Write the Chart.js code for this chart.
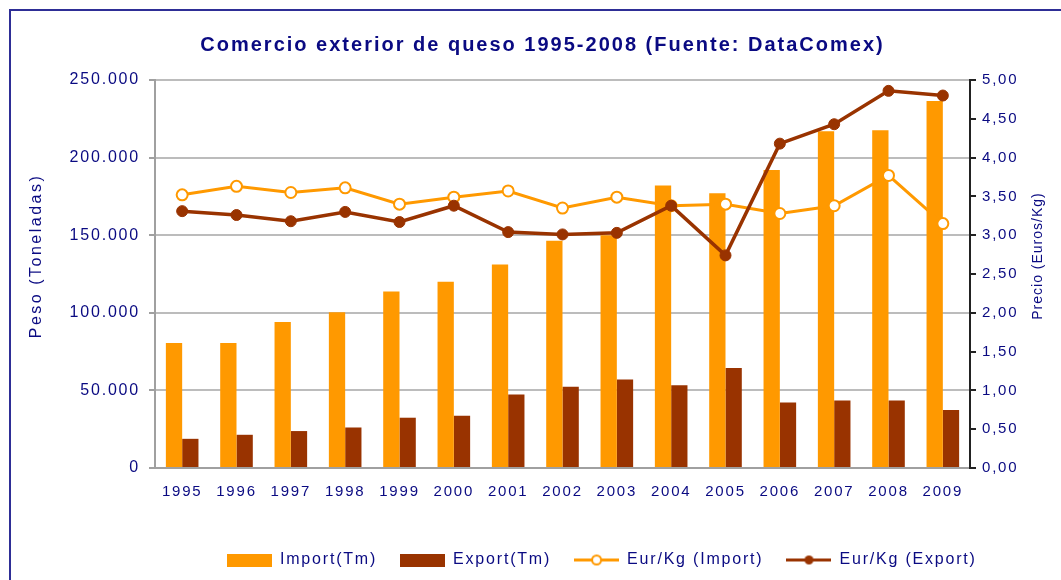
<!DOCTYPE html>
<html><head><meta charset="utf-8">
<script src="https://cdn.jsdelivr.net/npm/chart.js@4.4.1/dist/chart.umd.min.js"></script>
<style>
html,body{margin:0;padding:0;background:#fff;overflow:hidden;}
#wrap{position:relative;width:1061px;height:580px;}
#frame{position:absolute;left:9px;top:9px;width:1100px;height:600px;border-top:2px solid #2e2e96;border-left:2px solid #2e2e96;pointer-events:none;}
canvas{position:absolute;left:0;top:0;}
</style></head><body>
<div id="wrap"><canvas id="c" width="1061" height="580"></canvas><div id="frame"></div></div>
<script>
// ---- data ----
const years = ['1995','1996','1997','1998','1999','2000','2001','2002','2003','2004','2005','2006','2007','2008','2009'];
const importTm = [80500, 80500, 94000, 100300, 113800, 120000, 131200, 146500, 150000, 182000, 177000, 192000, 217000, 217600, 236500];
const exportTm = [18800, 21400, 23800, 26100, 32400, 33600, 47300, 52300, 57000, 53300, 64500, 42200, 43500, 43500, 37300];
const eurImport = [3.52, 3.63, 3.55, 3.61, 3.40, 3.49, 3.57, 3.35, 3.49, 3.38, 3.40, 3.28, 3.38, 3.77, 3.15];
const eurExport = [3.31, 3.26, 3.18, 3.30, 3.17, 3.38, 3.04, 3.01, 3.03, 3.38, 2.74, 4.18, 4.43, 4.86, 4.80];
const leftTickLabels = ['0','50.000','100.000','150.000','200.000','250.000'];
const rightTickLabels = ['0,00','0,50','1,00','1,50','2,00','2,50','3,00','3,50','4,00','4,50','5,00'];
const seriesNames = ['Import(Tm)','Export(Tm)','Eur/Kg (Import)','Eur/Kg (Export)'];
const chartTitle = 'Comercio exterior de queso 1995-2008 (Fuente: DataComex)';
const leftAxisTitle = 'Peso (Toneladas)';
const rightAxisTitle = 'Precio (Euros/Kg)';

// ---- styles ----
const NAVY = '#0a0a82';
const ORANGE = '#FF9900';
const BROWN = '#993300';
const FONT = "'Liberation Sans', Arial, sans-serif";

// wide letter spacing like the original rendering
(function(){
  const P = CanvasRenderingContext2D.prototype;
  const d = Object.getOwnPropertyDescriptor(P, 'font');
  Object.defineProperty(P, 'font', {
    configurable: true, enumerable: d.enumerable,
    get(){ return d.get.call(this); },
    set(v){ d.set.call(this, v); if ('letterSpacing' in this) { this.letterSpacing = /bold/.test(v) ? '2px' : '1.8px'; } }
  });
})();

function icon(kind, color){
  const c = document.createElement('canvas');
  c.width = 45; c.height = 13;
  const g = c.getContext('2d');
  if (kind === 'bar') {
    g.fillStyle = color; g.fillRect(0, 0, 45, 13);
  } else {
    g.strokeStyle = color; g.lineWidth = 3;
    g.beginPath(); g.moveTo(0, 6.5); g.lineTo(45, 6.5); g.stroke();
    g.beginPath(); g.arc(22.5, 6.5, 4.5, 0, Math.PI * 2);
    if (kind === 'open') { g.fillStyle = '#fff'; g.fill(); g.lineWidth = 2; g.stroke(); }
    else { g.fillStyle = color; g.fill(); }
  }
  return c;
}
const legendIcons = [icon('bar', ORANGE), icon('bar', BROWN), icon('open', ORANGE), icon('filled', BROWN)];

Chart.defaults.font.family = FONT;
Chart.defaults.font.size = 15;
Chart.defaults.color = NAVY;

const legendShift = {
  id: 'legendShift',
  afterLayout(chart){ const l = chart.legend; if (l) { l.left = 204; } }
};
const axisTitles = {
  id: 'axisTitles',
  afterDraw(chart){
    const c = chart.ctx;
    c.save();
    c.fillStyle = NAVY; c.textAlign = 'center'; c.textBaseline = 'middle';
    c.font = '16px ' + FONT; c.letterSpacing = '2.5px';
    c.translate(37, 256); c.rotate(-Math.PI / 2); c.fillText(leftAxisTitle, 0, 0);
    c.restore();
    c.save();
    c.fillStyle = NAVY; c.textAlign = 'center'; c.textBaseline = 'middle';
    c.font = '14px ' + FONT; c.letterSpacing = '1px';
    c.translate(1038, 256); c.rotate(-Math.PI / 2); c.fillText(rightAxisTitle, 0, 0);
    c.restore();
  }
};

new Chart(document.getElementById('c'), {
  type: 'bar',
  data: {
    labels: years,
    datasets: [
      { type: 'bar', label: seriesNames[0], data: importTm, backgroundColor: ORANGE, yAxisID: 'y', order: 3, barPercentage: 1, categoryPercentage: 0.6 },
      { type: 'bar', label: seriesNames[1], data: exportTm, backgroundColor: BROWN, yAxisID: 'y', order: 3, barPercentage: 1, categoryPercentage: 0.6 },
      { type: 'line', label: seriesNames[2], data: eurImport, borderColor: ORANGE, borderWidth: 3, tension: 0,
        pointRadius: 5.5, pointBackgroundColor: '#fff', pointBorderColor: ORANGE, pointBorderWidth: 2, yAxisID: 'y1', order: 2 },
      { type: 'line', label: seriesNames[3], data: eurExport, borderColor: BROWN, borderWidth: 3.5, tension: 0,
        pointRadius: 5.5, pointBackgroundColor: BROWN, pointBorderColor: BROWN, pointBorderWidth: 1, yAxisID: 'y1', order: 1 }
    ]
  },
  options: {
    responsive: false, animation: false, devicePixelRatio: 1,
    layout: { padding: { left: 24, right: 0, top: 24, bottom: 2 } },
    plugins: {
      title: { display: true, text: chartTitle, color: NAVY, font: { size: 20, weight: 'bold' }, padding: { top: 9, bottom: 23 } },
      legend: {
        position: 'bottom', align: 'start',
        labels: {
          padding: 23, boxWidth: 45, boxHeight: 13, usePointStyle: true, pointStyleWidth: 45,
          color: NAVY, font: { size: 16 },
          generateLabels(chart){
            return chart.data.datasets.map((ds, i) => ({
              text: ds.label, pointStyle: legendIcons[i], fillStyle: 'rgba(0,0,0,0)', strokeStyle: 'rgba(0,0,0,0)',
              lineWidth: 0, hidden: !chart.isDatasetVisible(i), datasetIndex: i, fontColor: NAVY
            }));
          }
        }
      },
      tooltip: { enabled: false }
    },
    scales: {
      x: {
        grid: { display: false, drawTicks: false },
        border: { display: true, color: '#a0a0a0', width: 2 },
        ticks: { padding: 15, color: NAVY, font: { size: 15 }, maxRotation: 0, autoSkip: false },
        afterFit(s){ s.height = 61; }
      },
      y: {
        position: 'left', min: 0, max: 250000,
        ticks: { stepSize: 50000, padding: 9, color: NAVY, font: { size: 16 }, callback: (v, i) => leftTickLabels[i] },
        grid: { color: '#bcbcbc', lineWidth: 2, tickLength: 6, tickColor: '#a0a0a0' },
        border: { color: '#a0a0a0', width: 2 },
        afterFit(s){ s.width = 131; }
      },
      y1: {
        position: 'right', min: 0, max: 5,
        ticks: { stepSize: 0.5, padding: 6, color: NAVY, font: { size: 15 }, callback: (v, i) => rightTickLabels[i] },
        grid: { drawOnChartArea: false, tickLength: 6, tickColor: '#222', lineWidth: 2 },
        border: { color: '#222', width: 2 },
        afterFit(s){ s.width = 91; }
      }
    }
  },
  plugins: [legendShift, axisTitles]
});
</script>
</body></html>
